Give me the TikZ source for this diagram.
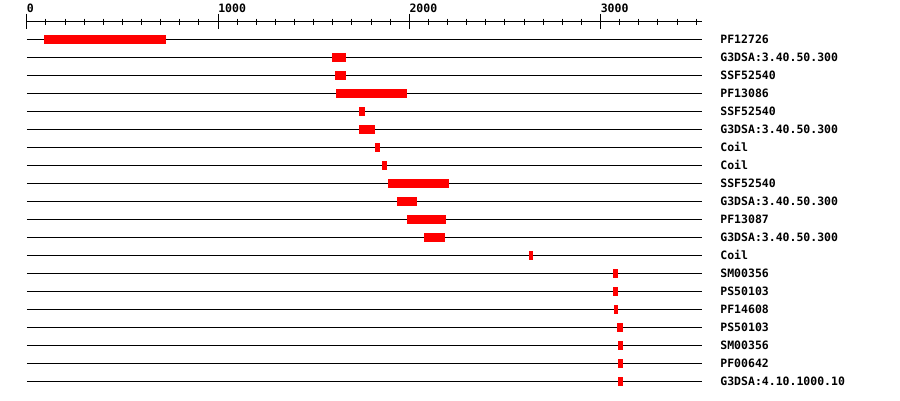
\documentclass[tikz,border=0pt]{standalone}
\usepackage{fontspec}
\setmonofont{DejaVu Sans Mono}
\begin{document}
\begin{tikzpicture}[x=0.19125pt,y=-1pt,
  track/.style={line width=1pt},
  hit/.style={fill=red,draw=none},
  lbl/.style={anchor=base west,inner sep=0pt,font=\ttfamily\bfseries\fontsize{11.5}{12}\selectfont}]
  \useasboundingbox ([xshift=-26.8pt]0,0) rectangle ([xshift=873.2pt]0,400);
  % ruler
  \coordinate (r0) at (0,21.5);
  \coordinate (r1) at (3530,21.5);
  \draw[track] (r0)--(r1);
  \foreach \t in {0,100,...,3500} \draw[track] (\t,18.5)--(\t,25);
  \foreach \t in {0,1000,2000,3000} {
    \draw[track] (\t,13.5)--(\t,29);
    \node[lbl] (t\t) at (\t,12) {\t};
  }
  % tracks
  \foreach \i/\a/\b/\name in {1/90/728/PF12726,2/1597/1669/G3DSA:3.40.50.300,
      3/1612/1669/SSF52540,4/1617/1988/PF13086,5/1737/1769/SSF52540,
      6/1737/1821/G3DSA:3.40.50.300,7/1821/1847/Coil,8/1858/1884/Coil,
      9/1889/2208/SSF52540,10/1936/2041/G3DSA:3.40.50.300,11/1988/2192/PF13087,
      12/2077/2187/G3DSA:3.40.50.300,13/2627/2647/Coil,14/3066/3092/SM00356,
      15/3066/3092/PS50103,16/3071/3092/PF14608,17/3087/3118/PS50103,
      18/3092/3118/SM00356,19/3092/3118/PF00642,20/3092/3118/G3DSA:4.10.1000.10} {
    \pgfmathsetmacro\y{39.5+18*(\i-1)}
    \coordinate (s\i) at (0,\y);
    \coordinate (e\i) at (3530,\y);
    \draw[track] (s\i)--(e\i);
    \fill[hit] (\a,\y-4.5) rectangle (\b,\y+4.5);
    \node[lbl] (n\i) at (3625.5,\y+4) {\name};
  }
\end{tikzpicture}
\end{document}
